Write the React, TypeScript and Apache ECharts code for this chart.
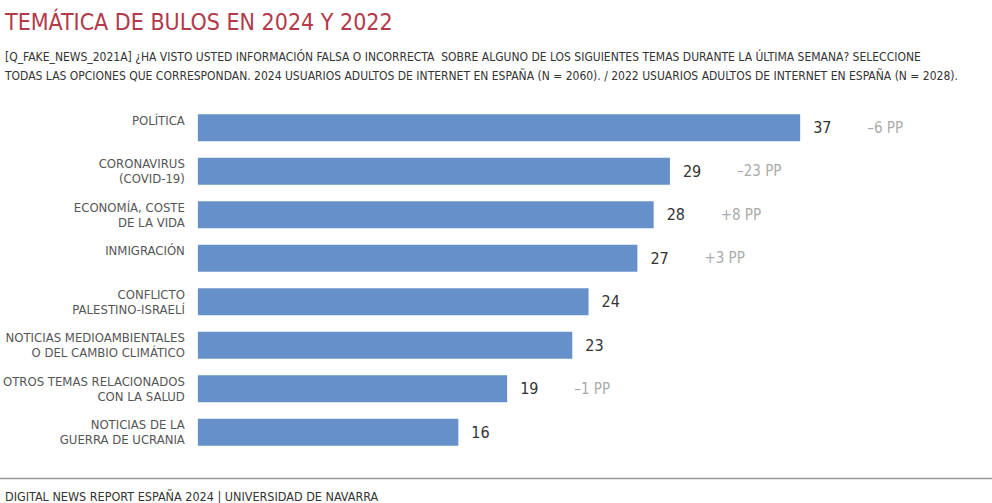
import React, { useEffect, useRef } from "react";
import * as echarts from "echarts";

const categories: string[] = [
  "POLÍTICA",
  "CORONAVIRUS\n(COVID-19)",
  "ECONOMÍA, COSTE\nDE LA VIDA",
  "INMIGRACIÓN",
  "CONFLICTO\nPALESTINO-ISRAELÍ",
  "NOTICIAS MEDIOAMBIENTALES\nO DEL CAMBIO CLIMÁTICO",
  "OTROS TEMAS RELACIONADOS\nCON LA SALUD",
  "NOTICIAS DE LA\nGUERRA DE UCRANIA",
];
const values2024: number[] = [37, 29, 28, 27, 24, 23, 19, 16];
const changesVs2022: string[] = ["–6 PP", "–23 PP", "+8 PP", "+3 PP", "", "", "–1 PP", ""];

const TITLE = "TEMÁTICA DE BULOS EN 2024 Y 2022";
const SUBTITLE =
  "[Q_FAKE_NEWS_2021A] ¿HA VISTO USTED INFORMACIÓN FALSA O INCORRECTA  SOBRE ALGUNO DE LOS SIGUIENTES TEMAS DURANTE LA ÚLTIMA SEMANA? SELECCIONE\nTODAS LAS OPCIONES QUE CORRESPONDAN. 2024 USUARIOS ADULTOS DE INTERNET EN ESPAÑA (N = 2060). / 2022 USUARIOS ADULTOS DE INTERNET EN ESPAÑA (N = 2028).";
const FOOTER = "DIGITAL NEWS REPORT ESPAÑA 2024 | UNIVERSIDAD DE NAVARRA";

const FONT = "'Liberation Sans Narrow', 'DejaVu Sans Condensed', 'Roboto', sans-serif";

export default function App() {
  const ref = useRef<HTMLDivElement>(null);
  useEffect(() => {
    document.body.style.margin = "0";
    if (!ref.current) return;
    const chart = echarts.init(ref.current, null, { renderer: "svg" });
    chart.setOption({
      animation: false,
      backgroundColor: "#ffffff",
      textStyle: { fontFamily: FONT },
      title: [
        {
          text: TITLE,
          left: 0,
          top: 5,
          textStyle: { fontFamily: FONT, fontSize: 23, fontWeight: "normal", color: "#b23a4a" },
        },
        {
          text: SUBTITLE,
          left: 0,
          top: 42,
          textStyle: { fontFamily: FONT, fontSize: 12, fontWeight: "normal", color: "#333", lineHeight: 19 },
        },
        {
          text: FOOTER,
          left: 0,
          top: 485,
          textStyle: { fontFamily: FONT, fontSize: 12.5, fontWeight: "normal", color: "#333" },
        },
      ],
      graphic: [
        {
          type: "line",
          shape: { x1: 0, y1: 478.5, x2: 992, y2: 478.5 },
          style: { stroke: "#999", lineWidth: 1.5 },
        },
      ],
      grid: { left: 195, right: 143, top: 106, bottom: 49, containLabel: false },
      xAxis: {
        type: "value",
        min: 0,
        max: 40,
        show: false,
      },
      yAxis: {
        type: "category",
        inverse: true,
        data: categories,
        axisLine: { show: false },
        axisTick: { show: false },
        axisLabel: {
          margin: 13,
          color: "#555",
          fontFamily: FONT,
          fontSize: 13,
          lineHeight: 15,
          align: "right",
          formatter: (v: string) => (v.includes("\n") ? v : `{one|${v}}`),
          rich: {
            one: { fontFamily: FONT, fontSize: 13, color: "#555", lineHeight: 15, padding: [0, 0, 15, 0] },
          },
        },
      },
      series: [
        {
          type: "bar",
          data: values2024,
          barWidth: 27,
          itemStyle: { color: "#6590ca" },
          label: {
            show: true,
            position: "right",
            distance: 13,
            formatter: (p: any) => `{v|${p.value}}{d|${changesVs2022[p.dataIndex]}}`,
            rich: {
              v: { fontFamily: FONT, fontSize: 16, color: "#333", width: 54 },
              d: { fontFamily: FONT, fontSize: 15, color: "#aaa" },
            },
          },
        },
      ],
    });
    return () => chart.dispose();
  }, []);
  return <div ref={ref} style={{ width: 992, height: 503 }} />;
}
